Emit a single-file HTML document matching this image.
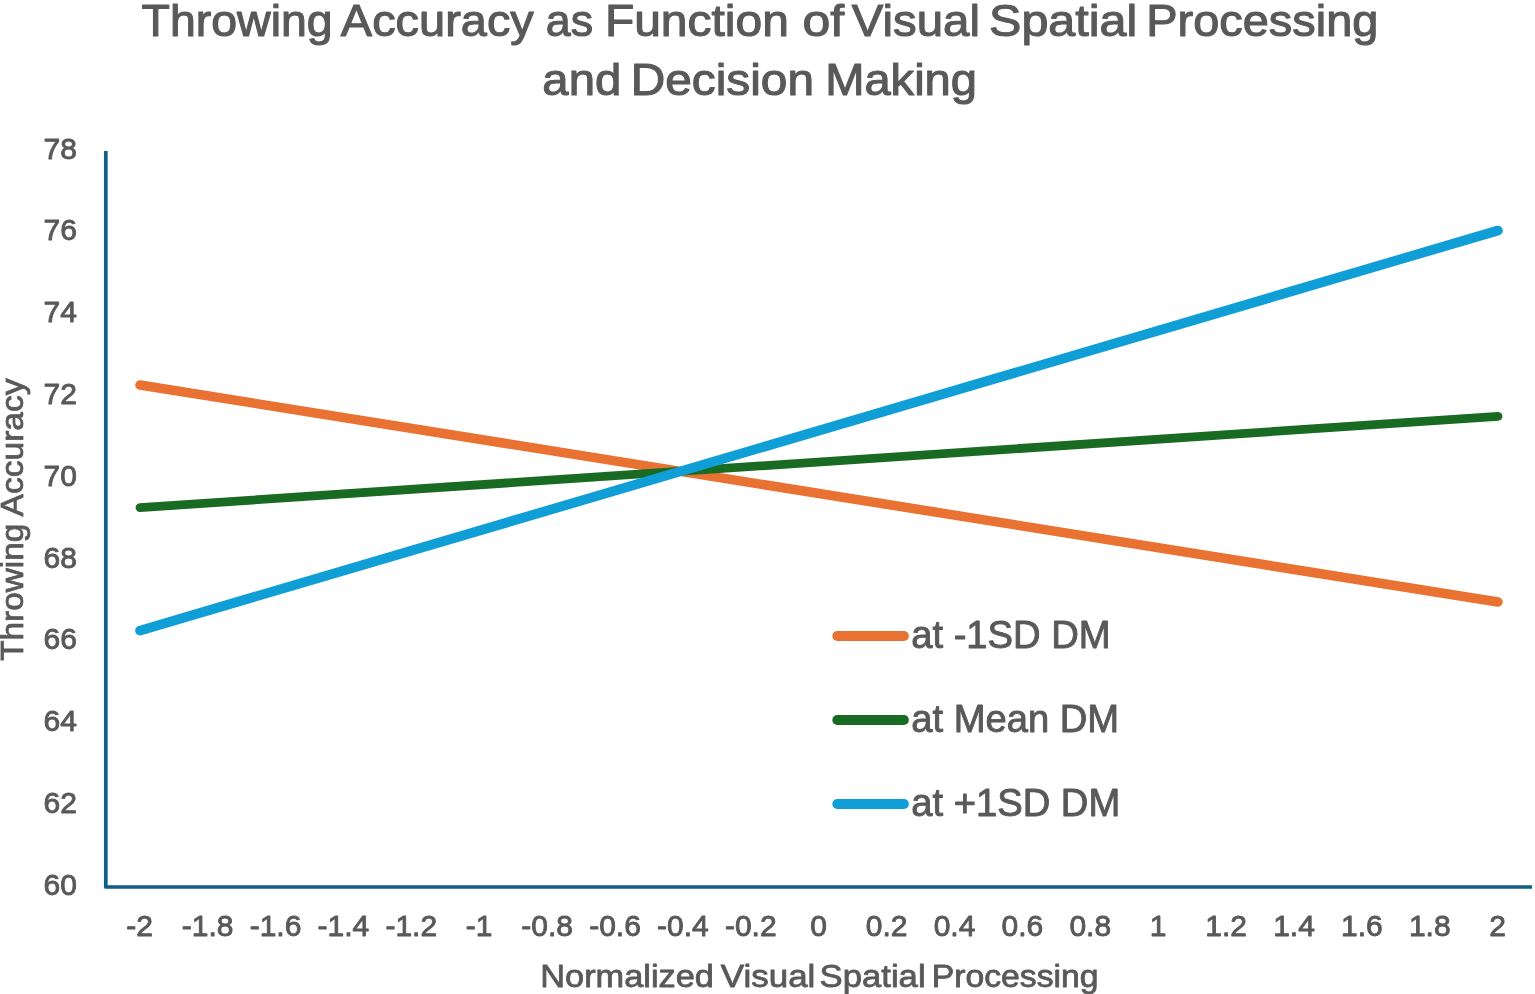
<!DOCTYPE html>
<html lang="en">
<head>
<meta charset="utf-8">
<title>Throwing Accuracy as Function of Visual Spatial Processing and Decision Making</title>
<style>
html,body{margin:0;padding:0;background:#fff;overflow:hidden}
svg{display:block}
text{font-family:"Liberation Sans",Arial,sans-serif;fill:#595959;stroke:#595959;stroke-linejoin:round}
.tick{font-size:30px;stroke-width:0.9px}
.leg{font-size:38.2px;stroke-width:0.9px}
.title{font-size:44.3px;stroke-width:1.1px}
.axt{font-size:31.4px;stroke-width:0.8px}
</style>
</head>
<body>
<svg width="1535" height="994" viewBox="0 0 1535 994">
<rect width="1535" height="994" fill="#ffffff"/>
<g>
<text class="title" transform="translate(141.60 36.2) scale(1.0487 1)">Throwing</text>
<text class="title" transform="translate(340.83 36.2) scale(1.0596 1)">Accuracy</text>
<text class="title" transform="translate(545.85 36.2) scale(1.0115 1)">as</text>
<text class="title" transform="translate(604.89 36.2) scale(1.0828 1)">Function</text>
<text class="title" transform="translate(802.53 36.2) scale(1.1280 1)">of</text>
<text class="title" transform="translate(851.71 36.2) scale(1.0701 1)">Visual</text>
<text class="title" transform="translate(989.07 36.2) scale(1.0946 1)">Spatial</text>
<text class="title" transform="translate(1146.28 36.2) scale(1.0595 1)">Processing</text>
<text class="title" transform="translate(542.34 95.2) scale(1.0676 1)">and</text>
<text class="title" transform="translate(630.70 95.2) scale(1.0797 1)">Decision</text>
<text class="title" transform="translate(825.16 95.2) scale(1.0636 1)">Making</text>
</g>
<path d="M105.8 151 V887 H1532" fill="none" stroke="#125E85" stroke-width="3.7" stroke-linejoin="round"/>
<g>
<text class="tick" x="76.9" y="158.6" text-anchor="end">78</text>
<text class="tick" x="76.9" y="240.4" text-anchor="end">76</text>
<text class="tick" x="76.9" y="322.2" text-anchor="end">74</text>
<text class="tick" x="76.9" y="403.9" text-anchor="end">72</text>
<text class="tick" x="76.9" y="485.7" text-anchor="end">70</text>
<text class="tick" x="76.9" y="567.5" text-anchor="end">68</text>
<text class="tick" x="76.9" y="649.3" text-anchor="end">66</text>
<text class="tick" x="76.9" y="731.0" text-anchor="end">64</text>
<text class="tick" x="76.9" y="812.8" text-anchor="end">62</text>
<text class="tick" x="76.9" y="894.6" text-anchor="end">60</text>
</g>
<g>
<text class="tick" x="139.7" y="936.3" text-anchor="middle">-2</text>
<text class="tick" x="207.6" y="936.3" text-anchor="middle">-1.8</text>
<text class="tick" x="275.5" y="936.3" text-anchor="middle">-1.6</text>
<text class="tick" x="343.4" y="936.3" text-anchor="middle">-1.4</text>
<text class="tick" x="411.3" y="936.3" text-anchor="middle">-1.2</text>
<text class="tick" x="479.2" y="936.3" text-anchor="middle">-1</text>
<text class="tick" x="547.1" y="936.3" text-anchor="middle">-0.8</text>
<text class="tick" x="615.0" y="936.3" text-anchor="middle">-0.6</text>
<text class="tick" x="682.9" y="936.3" text-anchor="middle">-0.4</text>
<text class="tick" x="750.8" y="936.3" text-anchor="middle">-0.2</text>
<text class="tick" x="818.7" y="936.3" text-anchor="middle">0</text>
<text class="tick" x="886.6" y="936.3" text-anchor="middle">0.2</text>
<text class="tick" x="954.5" y="936.3" text-anchor="middle">0.4</text>
<text class="tick" x="1022.4" y="936.3" text-anchor="middle">0.6</text>
<text class="tick" x="1090.3" y="936.3" text-anchor="middle">0.8</text>
<text class="tick" x="1158.2" y="936.3" text-anchor="middle">1</text>
<text class="tick" x="1226.1" y="936.3" text-anchor="middle">1.2</text>
<text class="tick" x="1294.0" y="936.3" text-anchor="middle">1.4</text>
<text class="tick" x="1361.9" y="936.3" text-anchor="middle">1.6</text>
<text class="tick" x="1429.8" y="936.3" text-anchor="middle">1.8</text>
<text class="tick" x="1497.7" y="936.3" text-anchor="middle">2</text>
</g>
<g>
<text class="axt" transform="translate(540.27 987.4) scale(1.0936 1)">Normalized</text>
<text class="axt" transform="translate(720.73 987.4) scale(1.1142 1)">Visual</text>
<text class="axt" transform="translate(819.54 987.4) scale(1.1052 1)">Spatial</text>
<text class="axt" transform="translate(931.72 987.4) scale(1.0748 1)">Processing</text>
</g>
<g>
<text class="axt" transform="translate(23 660.85) rotate(-90) scale(1.0628 1)">Throwing</text>
<text class="axt" transform="translate(23 516.48) rotate(-90) scale(1.0700 1)">Accuracy</text>
</g>
<line x1="140.0" y1="385" x2="1498.0" y2="602" stroke="#E97132" stroke-width="9.5" stroke-linecap="round"/>
<line x1="140.0" y1="507.6" x2="1498.0" y2="416.4" stroke="#196B24" stroke-width="8.8" stroke-linecap="round"/>
<line x1="140.0" y1="630.6" x2="1498.0" y2="230.5" stroke="#0F9ED5" stroke-width="9.7" stroke-linecap="round"/>
<line x1="837.3" y1="636" x2="903.9" y2="636" stroke="#E97132" stroke-width="10" stroke-linecap="round"/>
<text class="leg" x="911.2" y="647.8">at -1SD DM</text>
<line x1="837.3" y1="720" x2="903.9" y2="720" stroke="#196B24" stroke-width="10" stroke-linecap="round"/>
<text class="leg" x="911.2" y="731.8">at Mean DM</text>
<line x1="837.3" y1="804" x2="903.9" y2="804" stroke="#0F9ED5" stroke-width="10" stroke-linecap="round"/>
<text class="leg" x="911.2" y="815.8">at +1SD DM</text>
</svg>
</body>
</html>
